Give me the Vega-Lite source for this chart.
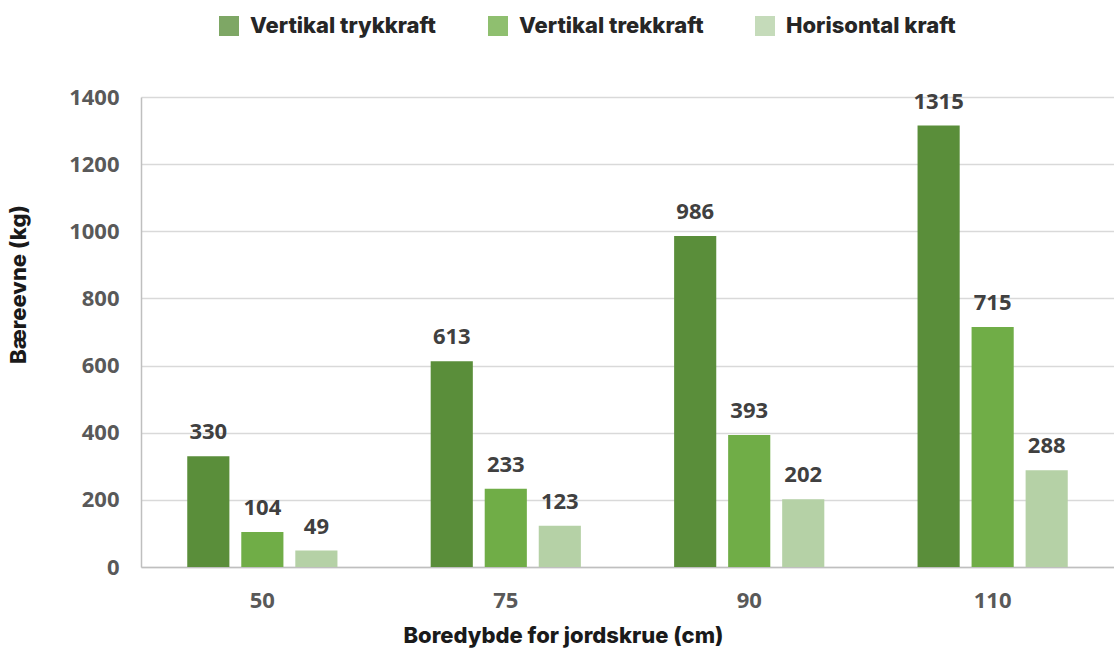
{
  "$schema": "https://vega.github.io/schema/vega-lite/v6.json",
  "autosize": {"type": "none"},
  "width": 973,
  "height": 470,
  "padding": {"left": 141, "top": 97, "right": 0, "bottom": 84},
  "background": "white",
  "config": {"view": {"stroke": null}},
  "data": {
    "values": [
      {"dybde": "50", "type": "Vertikal trykkraft", "kg": 330},
      {"dybde": "50", "type": "Vertikal trekkraft", "kg": 104},
      {"dybde": "50", "type": "Horisontal kraft", "kg": 49},
      {"dybde": "75", "type": "Vertikal trykkraft", "kg": 613},
      {"dybde": "75", "type": "Vertikal trekkraft", "kg": 233},
      {"dybde": "75", "type": "Horisontal kraft", "kg": 123},
      {"dybde": "90", "type": "Vertikal trykkraft", "kg": 986},
      {"dybde": "90", "type": "Vertikal trekkraft", "kg": 393},
      {"dybde": "90", "type": "Horisontal kraft", "kg": 202},
      {"dybde": "110", "type": "Vertikal trykkraft", "kg": 1315},
      {"dybde": "110", "type": "Vertikal trekkraft", "kg": 715},
      {"dybde": "110", "type": "Horisontal kraft", "kg": 288}
    ]
  },
  "encoding": {
    "x": {
      "field": "dybde", "type": "nominal", "sort": ["50", "75", "90", "110"],
      "scale": {"paddingInner": 0.383, "paddingOuter": 0.19},
      "axis": {
        "title": "Boredybde for jordskrue (cm)", "labelAngle": 0, "ticks": false,
        "labelPadding": 23, "labelFont": "Open Sans", "labelFontWeight": "bold", "labelFontSize": 22, "labelColor": "#595959",
        "titleFont": "Inter", "titleFontWeight": 800, "titleFontSize": 22, "titleColor": "#1a1a1a", "titlePadding": 14,
        "titleX": 422, "titleAlign": "center", "titleAnchor": null,
        "domainColor": "#bfbfbf", "domainWidth": 1.5
      }
    },
    "xOffset": {"field": "type", "type": "nominal", "sort": ["Vertikal trykkraft", "Vertikal trekkraft", "Horisontal kraft"], "scale": {"paddingInner": 0.22, "paddingOuter": 0}},
    "y": {
      "field": "kg", "type": "quantitative",
      "scale": {"domain": [0, 1400], "nice": false},
      "axis": {
        "title": "Bæreevne (kg)", "values": [0, 200, 400, 600, 800, 1000, 1200, 1400], "format": "d", "ticks": false,
        "labelPadding": 22, "labelFont": "Open Sans", "labelFontWeight": "bold", "labelFontSize": 22, "labelColor": "#595959",
        "titleFont": "Inter", "titleFontWeight": 800, "titleFontSize": 22, "titleColor": "#1a1a1a", "titlePadding": 38,
        "titleY": 187, "titleAlign": "center",
        "grid": true, "gridColor": "#d9d9d9", "gridWidth": 1.5, "domainColor": "#bfbfbf", "domainWidth": 1.5
      }
    }
  },
  "layer": [
    {
      "mark": {"type": "bar"},
      "encoding": {
        "color": {
          "field": "type", "type": "nominal",
          "sort": ["Vertikal trykkraft", "Vertikal trekkraft", "Horisontal kraft"],
          "scale": {"domain": ["Vertikal trykkraft", "Vertikal trekkraft", "Horisontal kraft"], "range": ["#5a8e3a", "#70ad47", "#b5d1a6"]},
          "legend": {
            "title": null, "orient": "none", "direction": "horizontal", "legendX": 77, "legendY": -82,
            "symbolType": "square", "symbolSize": 400, "symbolOpacity": 0.78, "symbolStrokeWidth": 0,
            "labelFont": "Inter", "labelFontWeight": 800, "labelFontSize": 22, "labelColor": "#262626",
            "columnPadding": 50, "labelOffset": 10, "labelLimit": 300
          }
        }
      }
    },
    {
      "mark": {"type": "text", "baseline": "bottom", "dy": -12, "font": "Open Sans", "fontWeight": "bold", "fontSize": 22, "color": "#404040"},
      "encoding": {"text": {"field": "kg", "type": "quantitative"}}
    }
  ]
}
